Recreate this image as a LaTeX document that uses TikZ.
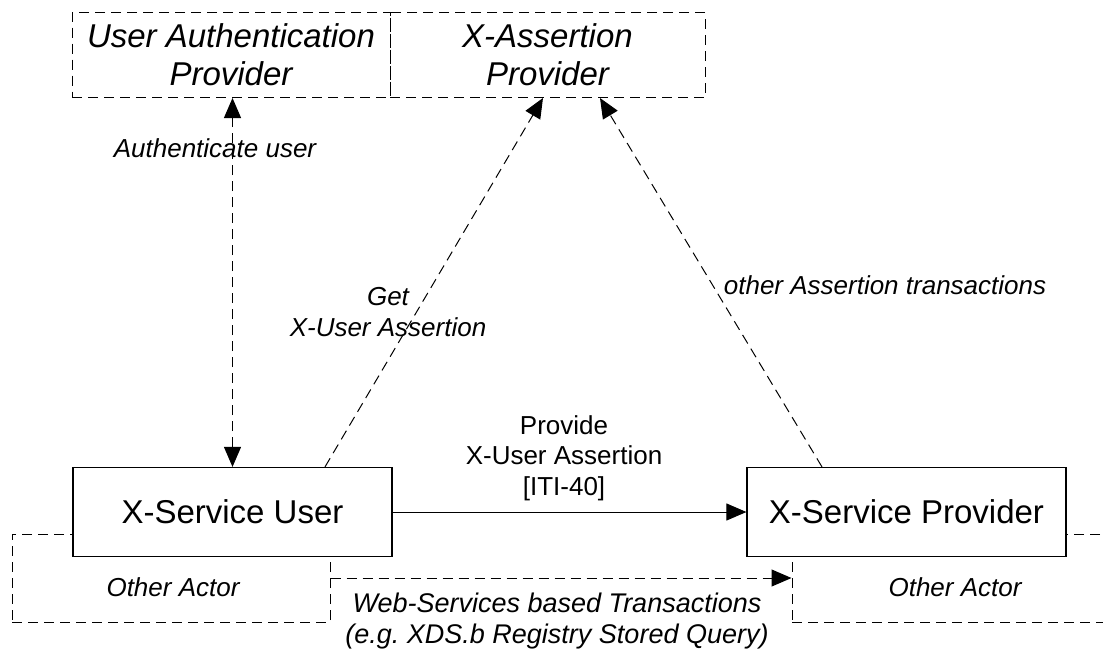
\documentclass[tikz,border=0pt]{standalone}
\usepackage{fontspec}
\setmainfont{Liberation Sans}
\usetikzlibrary{arrows.meta,positioning,calc}

\begin{document}
\begin{tikzpicture}[x=1pt,y=-1pt,
    actor/.style={rectangle, draw, fill=white, line width=1.2pt, minimum width=319pt, minimum height=89pt, font=\fontsize{33}{38}\selectfont},
    optactor/.style={rectangle, draw, dash pattern=on 10pt off 6pt, line width=1pt, align=center, inner sep=0pt},
    flow/.style={line width=1pt, -{Triangle[length=20pt,width=17pt]}},
    optflow/.style={flow, dash pattern=on 10pt off 6pt},
    lbl/.style={align=center, font=\fontsize{26}{31}\selectfont\itshape}]
    \useasboundingbox (0,0) rectangle (1103,651);
    \clip (0,0) rectangle (1103,651);
    % optional actors (drawn first, behind the solid boxes)
    \node [optactor, minimum width=318pt, minimum height=85pt, font=\fontsize{33}{38}\selectfont\itshape] (authprov) at (231,55) {User Authentication\\Provider};
    \node [optactor, minimum width=315pt, minimum height=85pt, font=\fontsize{33}{38}\selectfont\itshape] (assertprov) at (547.5,55) {X-Assertion\\Provider};
    \node [optactor, minimum width=318pt, minimum height=88pt] (otherleft) at (171,578) {};
    \node [optactor, minimum width=326pt, minimum height=88pt] (otherright) at (955,578) {};
    \node [lbl] (otherleftlbl) at (173,587) {Other Actor};
    \node [lbl] (otherrightlbl) at (955,587) {Other Actor};
    % main actors
    \node [actor] (srvuser) at (232.5,512) {X-Service User};
    \node [actor] (srvprov) at (906.5,512) {X-Service Provider};
    % transactions
    \draw [optflow, {Triangle[length=20pt,width=17pt]}-{Triangle[length=20pt,width=17pt]}] (srvuser.north) -- (srvuser.north |- authprov.south);
    \node [lbl] (authlbl) at (215,148) {Authenticate user};
    \draw [optflow] ($(srvuser.north)+(92.5,0)$) -- ($(assertprov.south)+(-4.5,0)$);
    \node [lbl] (getlbl) at (388,312.5) {Get\\X-User Assertion};
    \draw [optflow] ($(srvprov.north)+(-84.5,0)$) -- ($(assertprov.south)+(52.5,0)$);
    \node [lbl] (otherlbl) at (885,285) {other Assertion transactions};
    \draw [flow] (srvuser.east) -- (srvprov.west);
    \node [lbl, font=\fontsize{26}{30.5}\selectfont] (iti40) at (564,458) {Provide\\X-User Assertion\\{}[ITI-40]};
    \draw [optflow] (otherleft.east) -- (otherright.west);
    \node [lbl, font=\fontsize{27}{31}\selectfont\itshape] (wslbl) at (557,621) {Web-Services based Transactions\\(e.g.\ XDS.b Registry Stored Query)};
\end{tikzpicture}
\end{document}
